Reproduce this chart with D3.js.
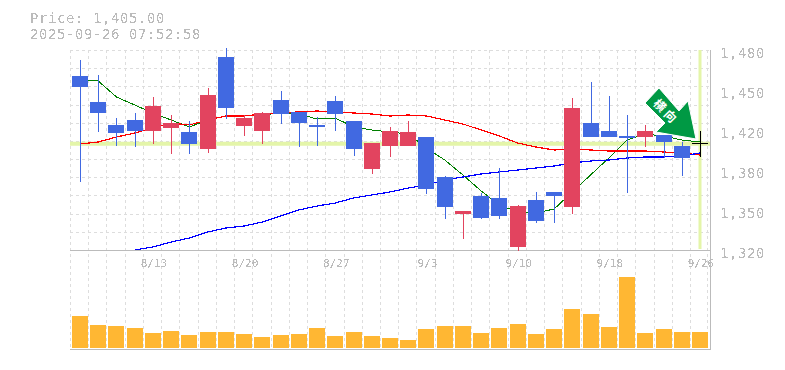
<!DOCTYPE html>
<html>
<head>
<meta charset="utf-8">
<script src="https://cdn.jsdelivr.net/npm/d3@7"></script>
<style>
html, body { margin: 0; padding: 0; background: #fff; }
svg { display: block; }
.lbl { font-family: "DejaVu Sans Mono", monospace; fill: #bbb; }
</style>
</head>
<body>
<svg id="chart" width="785" height="370"></svg>
<script>
var title1 = "Price: 1,405.00";
var title2 = "2025-09-26 07:52:58";
var lastPrice = 1405;

var dates = ["8/6","8/7","8/8","8/12","8/13","8/14","8/15","8/18","8/19","8/20","8/21","8/22","8/25","8/26","8/27","8/28","8/29","9/1","9/2","9/3","9/4","9/5","9/8","9/9","9/10","9/11","9/12","9/16","9/17","9/18","9/19","9/22","9/24","9/25","9/26"];
var dateTicks = ["8/13","8/20","8/27","9/3","9/10","9/18","9/26"];
var priceTicks = [1480,1448,1416,1384,1352,1320];
var priceLabels = ["1,480","1,450","1,420","1,380","1,350","1,320"];

var opens  = [1459.2,1438.4,1420,1424,1415.2,1417.6,1414.4,1400.8,1474.4,1419.2,1415.2,1440,1430.4,1420,1439.2,1423.2,1384.8,1403.2,1403.2,1410.4,1378.4,1348.8,1363.2,1361.6,1322.4,1360,1366.4,1354.4,1421.6,1415.2,1411.2,1410.4,1412,1403.2,1405];
var closes = [1450.4,1429.6,1413.6,1415.2,1435.2,1421.6,1404.8,1444,1433.6,1425.6,1429.6,1428.8,1421.6,1418.4,1428.8,1400.8,1405.6,1415.2,1414.4,1368.8,1354.4,1351.2,1345.6,1347.2,1355.2,1343.2,1363.2,1433.6,1410.4,1410.4,1409.6,1415.2,1406.4,1393.6,1405];
var highs  = [1472,1460,1425.6,1429.6,1442.4,1428,1423.2,1449.6,1482,1428,1430.4,1447.2,1430.4,1426.4,1443.2,1423.2,1405.6,1418.4,1423.2,1410.4,1379.2,1351.2,1365.6,1385.6,1356,1366.4,1366.4,1441.6,1454.4,1443.2,1428,1420,1412,1406.4,1415];
var lows   = [1374.4,1414.4,1403.2,1402.4,1404.8,1396.8,1396.8,1397.6,1424.8,1411.2,1404.8,1420.8,1402.4,1403.2,1415.2,1395.2,1380.8,1394.4,1403.2,1364.8,1344.8,1328.8,1344.8,1344.8,1319.2,1341.6,1341.6,1348.8,1410.4,1410.4,1365.6,1402.4,1393.6,1379.2,1394.4];

var maShort = [1456,1455.2,1442.4,1436,1429.6,1424,1418.4,1424,1427.2,1427.2,1428,1429.6,1428.8,1424.8,1425.6,1418.4,1416,1414.4,1412.8,1401.6,1392,1380,1367.2,1356,1350.4,1349.6,1352.8,1366.4,1380,1393.6,1408,1412.8,1411.2,1408,1406.4];
var maMid   = [1404.8,1406.4,1410.4,1413.6,1417.6,1421.6,1420,1424,1427.2,1427.2,1428.8,1430,1430.4,1431.2,1430.4,1429.6,1428.8,1427.2,1428,1427.2,1424,1420.8,1416,1411.2,1405.6,1402.4,1400,1400.8,1400,1399.2,1399.2,1399.2,1398.4,1397.6,1396];
var maLong  = [null,null,null,1320,1322.4,1326.4,1329.6,1334.4,1337.6,1339.2,1342.4,1347.2,1352,1355.2,1357.6,1361.6,1364,1366.4,1369.6,1372,1376,1378.4,1380.8,1382.4,1384,1385.6,1387.2,1389.6,1391.2,1392,1393.6,1394.4,1394.4,1395.2,1397.6];

var volumes = [320,230,220,200,150,170,130,160,160,140,110,130,140,200,120,160,120,100,80,190,220,220,150,200,240,140,190,390,340,210,710,150,190,160,160];

var svg = d3.select("#chart");

var left = 70, right = 710, top_ = 50, priceBottom = 250, volBottom = 350;
var step = (right - left - 20) / 34;

var x = d3.scaleLinear().domain([0, 34]).range([left + 10, left + 10 + step * 34]);
var y = d3.scaleLinear().domain([1320, 1480]).range([priceBottom, top_]);
var v = d3.scaleLinear().domain([0, 800]).range([348, 268]);

// pixel look for the text, like the original image
var defs = svg.append("defs");
var f = defs.append("filter").attr("id", "hard")
    .attr("x", "-5%").attr("y", "-20%").attr("width", "110%").attr("height", "140%");
f.append("feComponentTransfer").append("feFuncA")
    .attr("type", "discrete").attr("tableValues", "0 0 1 1");

// grid
var grid = svg.append("g")
    .attr("stroke", "#ddd")
    .attr("stroke-dasharray", "3,3")
    .attr("shape-rendering", "crispEdges");

grid.selectAll("line.v")
    .data(d3.range(0, 35))
    .enter().append("line")
    .attr("class", "v")
    .attr("x1", d => Math.round(x(d) - 10) + 0.5)
    .attr("x2", d => Math.round(x(d) - 10) + 0.5)
    .attr("y1", top_)
    .attr("y2", volBottom);

grid.append("line")
    .attr("x1", right - 2.5).attr("x2", right - 2.5)
    .attr("y1", top_).attr("y2", volBottom);

grid.selectAll("line.h")
    .data(d3.range(0, 11))
    .enter().append("line")
    .attr("class", "h")
    .attr("x1", left)
    .attr("x2", right)
    .attr("y1", d => Math.round(y(1480 - d * 160 / 11)) + 0.5)
    .attr("y2", d => Math.round(y(1480 - d * 160 / 11)) + 0.5);

// last price bands
svg.append("rect")
    .attr("x", left).attr("y", y(lastPrice) - 2)
    .attr("width", right - left).attr("height", 4)
    .attr("fill", "#e4f5a9");
svg.append("rect")
    .attr("x", x(34) - 1.5).attr("y", top_)
    .attr("width", 3).attr("height", priceBottom - top_ - 1)
    .attr("fill", "#e4f5a9");

// frame
var frame = svg.append("g").attr("stroke", "#bbb").attr("shape-rendering", "crispEdges");
frame.append("line").attr("x1", left).attr("x2", right).attr("y1", priceBottom + 0.5).attr("y2", priceBottom + 0.5);
frame.append("line").attr("x1", left).attr("x2", right + 1).attr("y1", volBottom - 0.5).attr("y2", volBottom - 0.5);
frame.append("line").attr("x1", right + 0.5).attr("x2", right + 0.5).attr("y1", top_).attr("y2", volBottom);

// moving averages sit under the candles
function drawMa(values, color, w) {
    var line = d3.line()
        .defined(d => d !== null)
        .x((d, i) => x(i))
        .y(d => y(d));
    svg.append("path")
        .attr("d", line(values))
        .attr("fill", "none")
        .attr("stroke", color)
        .attr("stroke-width", w)
        .attr("shape-rendering", "crispEdges");
}
drawMa(maShort, "#007f00", 1);
drawMa(maMid, "#f00", 1.2);
drawMa(maLong, "#00f", 1.2);

// candles
var blue = "#4169e1", red = "#e2445f";
var candles = svg.append("g").attr("shape-rendering", "crispEdges");
d3.range(0, 34).forEach(function(i) {
    var col = closes[i] > opens[i] ? red : blue;
    var cx = Math.round(x(i));
    candles.append("line")
        .attr("x1", cx + 0.5).attr("x2", cx + 0.5)
        .attr("y1", y(highs[i])).attr("y2", y(lows[i]))
        .attr("stroke", col);
    candles.append("rect")
        .attr("x", cx - 8).attr("width", 16)
        .attr("y", y(Math.max(opens[i], closes[i])))
        .attr("height", Math.max(2, Math.abs(y(opens[i]) - y(closes[i]))))
        .attr("fill", col);
});

// today, still a doji
var cross = svg.append("g").attr("stroke", "#000").attr("shape-rendering", "crispEdges");
cross.append("line").attr("x1", x(34) + 0.5).attr("x2", x(34) + 0.5).attr("y1", y(highs[34])).attr("y2", y(lows[34]));
cross.append("line").attr("x1", x(34) - 8).attr("x2", x(34) + 8).attr("y1", y(closes[34])).attr("y2", y(closes[34]));

// volume
svg.append("g").selectAll("rect")
    .data(volumes)
    .enter().append("rect")
    .attr("x", (d, i) => Math.round(x(i)) - 8)
    .attr("width", 16)
    .attr("y", d => v(d))
    .attr("height", d => v(0) - v(d))
    .attr("fill", "#ffb733");

// arrow sticker
svg.append("path")
    .attr("d", "M659,88L645,103L665,123L656,132L696,139L688,101L679,111Z")
    .attr("fill", "#009944")
    .attr("stroke", "#fff")
    .attr("stroke-width", 1);
svg.append("text")
    .attr("transform", "translate(667,111) rotate(45)")
    .attr("text-anchor", "middle")
    .attr("dominant-baseline", "central")
    .attr("fill", "#fff")
    .style("font-family", "'Noto Sans CJK JP'")
    .style("font-weight", "700")
    .style("font-size", "12px")
    .style("letter-spacing", "3px")
    .text("横向");

// axes
var yAxis = d3.axisRight(y)
    .tickValues(priceTicks)
    .tickFormat((d, i) => priceLabels[i])
    .tickSize(0)
    .tickPadding(0);
var yg = svg.append("g")
    .attr("transform", "translate(720,3.5)")
    .attr("filter", "url(#hard)")
    .call(yAxis);
yg.select(".domain").remove();
yg.selectAll("text").attr("class", "lbl")
    .style("font-size", "14px").style("letter-spacing", "0.57px")
    .attr("x", 0).attr("fill", null);

svg.append("g").attr("filter", "url(#hard)").selectAll("text")
    .data(dateTicks)
    .enter().append("text")
    .attr("class", "lbl")
    .attr("x", d => x(dates.indexOf(d)) + 1)
    .attr("y", 267)
    .attr("text-anchor", "middle")
    .style("font-size", "11px")
    .text(d => d);

var head = svg.append("g").attr("filter", "url(#hard)");
head.append("text").attr("class", "lbl").attr("x", 30).attr("y", 23)
    .style("font-size", "14px").style("letter-spacing", "0.57px").text(title1);
head.append("text").attr("class", "lbl").attr("x", 30).attr("y", 39)
    .style("font-size", "14px").style("letter-spacing", "0.57px").text(title2);
</script>
</body>
</html>
